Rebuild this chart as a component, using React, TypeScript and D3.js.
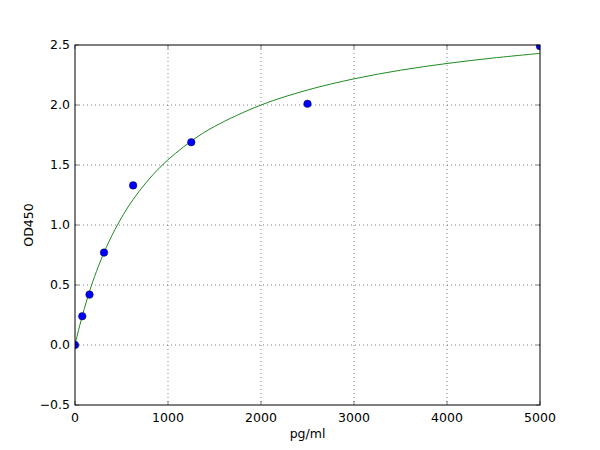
import React from "react";
import * as d3 from "d3";

const pointX = [0, 78, 156, 312, 625, 1250, 2500, 5000];
const pointY = [0.0, 0.24, 0.42, 0.77, 1.33, 1.69, 2.01, 2.49];

const curveX = [0, 25, 50, 100, 172, 250, 312, 430, 625, 914, 1250, 1500, 2000, 2500, 3000, 3500, 4000, 4500, 5000];
const curveY = [0, 0.083, 0.16, 0.303, 0.485, 0.652, 0.77, 0.963, 1.213, 1.481, 1.699, 1.821, 2.0, 2.125, 2.218, 2.29, 2.346, 2.392, 2.43];

const xTicks = [0, 1000, 2000, 3000, 4000, 5000];
const yTicks = [-0.5, 0.0, 0.5, 1.0, 1.5, 2.0, 2.5];

const W = 600, H = 450;
const L = 75, R = 540, T = 45, B = 405;

export default function App() {
  const x = d3.scaleLinear().domain([0, 5000]).range([L, R]);
  const y = d3.scaleLinear().domain([-0.5, 2.5]).range([B, T]);
  const line = d3
    .line<number>()
    .x((d, i) => x(curveX[i]))
    .y((d) => y(d))
    .curve(d3.curveCatmullRom.alpha(0.5));
  const fmtY = (v: number) => (v < 0 ? "\u2212" : "") + Math.abs(v).toFixed(1);
  const font = "DejaVu Sans, sans-serif";
  return (
    <svg width={W} height={H} style={{ position: "absolute", left: 0, top: 0 }} fontFamily={font}>
      <rect x={0} y={0} width={W} height={H} fill="#fff" />
      <defs>
        <clipPath id="clip">
          <rect x={L} y={T} width={R - L} height={B - T} />
        </clipPath>
      </defs>
      {xTicks.slice(1, -1).map((t) => (
        <line key={"gx" + t} x1={x(t)} x2={x(t)} y1={T} y2={B} stroke="#000" strokeWidth={0.5} strokeDasharray="1,3" />
      ))}
      {yTicks.slice(1, -1).map((t) => (
        <line key={"gy" + t} x1={L} x2={R} y1={y(t)} y2={y(t)} stroke="#000" strokeWidth={0.5} strokeDasharray="1,3" />
      ))}
      <g clipPath="url(#clip)">
        <path d={line(curveY) || ""} fill="none" stroke="#1f8a1f" strokeWidth={1} />
        {pointX.map((px, i) => (
          <circle key={i} cx={x(px)} cy={y(pointY[i])} r={3.8} fill="#0000ff" stroke="#000" strokeWidth={0.4} />
        ))}
      </g>
      <rect x={L} y={T} width={R - L} height={B - T} fill="none" stroke="#000" strokeWidth={1} />
      {xTicks.map((t) => (
        <g key={"tx" + t}>
          <line x1={x(t)} x2={x(t)} y1={B} y2={B - 4} stroke="#000" strokeWidth={0.5} />
          <line x1={x(t)} x2={x(t)} y1={T} y2={T + 4} stroke="#000" strokeWidth={0.5} />
          <text x={x(t)} y={B + 17} textAnchor="middle" fontSize={12.5}>{t}</text>
        </g>
      ))}
      {yTicks.map((t) => (
        <g key={"ty" + t}>
          <line x1={L} x2={L + 4} y1={y(t)} y2={y(t)} stroke="#000" strokeWidth={0.5} />
          <line x1={R} x2={R - 4} y1={y(t)} y2={y(t)} stroke="#000" strokeWidth={0.5} />
          <text x={L - 5} y={y(t)} dy="0.35em" textAnchor="end" fontSize={12.5}>{fmtY(t)}</text>
        </g>
      ))}
      <text x={(L + R) / 2} y={438} textAnchor="middle" fontSize={12.5}>pg/ml</text>
      <text transform={`translate(33,${(T + B) / 2}) rotate(-90)`} textAnchor="middle" fontSize={12.5}>OD450</text>
    </svg>
  );
}
